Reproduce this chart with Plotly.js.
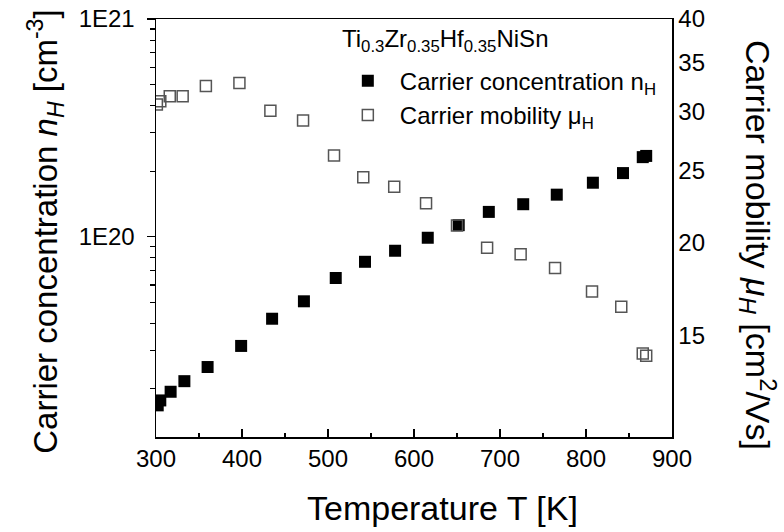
<!DOCTYPE html>
<html>
<head>
<meta charset="utf-8">
<script src="https://cdn.plot.ly/plotly-3.0.1.min.js"></script>
<style>html,body{margin:0;padding:0;background:#fff;}#chart{width:784px;height:532px;}</style>
</head>
<body>
<div id="chart"></div>
<script>
// Temperature (K) and Hall carrier concentration (cm^-3)
const tempN = [302, 305, 317, 333, 360, 399, 435, 472, 509, 543, 578, 616, 652, 687, 727, 766, 808, 843, 866, 870];
const carrierConc = [1.68e19, 1.77e19, 1.94e19, 2.17e19, 2.52e19, 3.15e19, 4.20e19, 5.05e19, 6.46e19, 7.67e19, 8.62e19, 9.89e19, 1.13e20, 1.30e20, 1.41e20, 1.56e20, 1.77e20, 1.96e20, 2.32e20, 2.35e20];
// Temperature (K) and Hall carrier mobility (cm^2/Vs)
const tempMu = [301, 305, 316, 331, 358, 397, 433, 471, 507, 541, 577, 614, 650, 685, 724, 764, 807, 841, 866, 870];
const carrierMob = [30.7, 31.0, 31.5, 31.5, 32.5, 32.8, 30.1, 29.2, 26.2, 24.5, 23.8, 22.6, 21.1, 19.7, 19.3, 18.5, 17.2, 16.4, 14.2, 14.1];

const xTicks = [300, 400, 500, 600, 700, 800, 900];
const xMinor = [350, 450, 550, 650, 750, 850];
const nTicks = [1e20, 1e21];
const nTickText = ['1E20', '1E21'];
const nMinor = [2e19, 3e19, 4e19, 5e19, 6e19, 7e19, 8e19, 9e19, 2e20, 3e20, 4e20, 5e20, 6e20, 7e20, 8e20, 9e20];
const muTicks = [15, 20, 25, 30, 35, 40];
const sampleName = 'Ti<sub>0.3</sub>Zr<sub>0.35</sub>Hf<sub>0.35</sub>NiSn';

const FONT = 'Liberation Sans, Arial, sans-serif';

const traces = [
  {
    x: tempN, y: carrierConc, type: 'scatter', mode: 'markers',
    name: 'Carrier concentration n<sub>H</sub>',
    marker: {symbol: 'square', size: 12, color: '#000000'},
    xaxis: 'x', yaxis: 'y'
  },
  {
    x: tempMu, y: carrierMob, type: 'scatter', mode: 'markers',
    name: 'Carrier mobility μ<sub>H</sub>',
    marker: {symbol: 'square-open', size: 11, color: '#555555', line: {width: 1.5, color: '#555555'}},
    xaxis: 'x', yaxis: 'y2'
  }
];

const layout = {
  width: 784, height: 532,
  margin: {l: 156, r: 112, t: 19, b: 95, pad: 0},
  paper_bgcolor: '#ffffff', plot_bgcolor: '#ffffff',
  font: {family: FONT, color: '#000000', size: 24},
  showlegend: true,
  legend: {
    x: 0.3485, y: 0.905, xanchor: 'left', yanchor: 'top',
    bgcolor: 'rgba(0,0,0,0)', borderwidth: 0, itemwidth: 54,
    font: {family: FONT, size: 24, color: '#000'},
    tracegroupgap: 0
  },
  xaxis: {
    range: [300, 900], tickmode: 'array', tickvals: xTicks,
    ticks: 'inside', ticklen: 8, tickwidth: 1.5, tickcolor: '#000',
    showline: true, linewidth: 1.5, linecolor: '#000', mirror: true,
    showgrid: false, zeroline: false,
    tickfont: {family: FONT, size: 24},
    minor: {tickmode: 'array', tickvals: xMinor, ticks: 'inside', ticklen: 4, tickwidth: 1.5, tickcolor: '#000', showgrid: false}
  },
  yaxis: {
    type: 'log', range: [19.08, 21], tickmode: 'array', tickvals: nTicks, ticktext: nTickText,
    ticks: 'outside', ticklen: 8, tickwidth: 1.5, tickcolor: '#000',
    showline: true, linewidth: 1.5, linecolor: '#000',
    showgrid: false, zeroline: false, ticklabelstandoff: 7,
    tickfont: {family: FONT, size: 24},
    minor: {tickmode: 'array', tickvals: nMinor, ticks: 'outside', ticklen: 5, tickwidth: 1.2, tickcolor: '#000', showgrid: false}
  },
  yaxis2: {
    type: 'log', range: [Math.log10(10.96), Math.log10(40)], overlaying: 'y', side: 'right',
    tickmode: 'array', tickvals: muTicks, ticks: '',
    showline: true, linewidth: 1.5, linecolor: '#000',
    showgrid: false, zeroline: false,
    tickfont: {family: FONT, size: 24}
  },
  annotations: [
    {text: sampleName, xref: 'paper', yref: 'paper', x: 0.357, y: 0.948,
     xanchor: 'left', yanchor: 'middle', showarrow: false, font: {family: FONT, size: 24}},
    {text: 'Temperature T [K]', xref: 'paper', yref: 'paper', x: 0.556, y: -0.17,
     xanchor: 'center', yanchor: 'middle', showarrow: false, font: {family: FONT, size: 34}},
    {text: 'Carrier concentration <i>n<sub>H</sub></i> [cm<sup>-3</sup>]', xref: 'paper', yref: 'paper',
     x: -0.214, y: 0.49, xanchor: 'center', yanchor: 'middle', textangle: -90, showarrow: false,
     font: {family: FONT, size: 33}},
    {text: 'Carrier mobility <i>μ<sub>H</sub></i> [cm<sup>2</sup>/Vs]', xref: 'paper', yref: 'paper',
     x: 1.168, y: 0.46, xanchor: 'center', yanchor: 'middle', textangle: 90, showarrow: false,
     font: {family: FONT, size: 34}}
  ]
};

Plotly.newPlot('chart', traces, layout, {displayModeBar: false, staticPlot: true});
</script>
</body>
</html>
